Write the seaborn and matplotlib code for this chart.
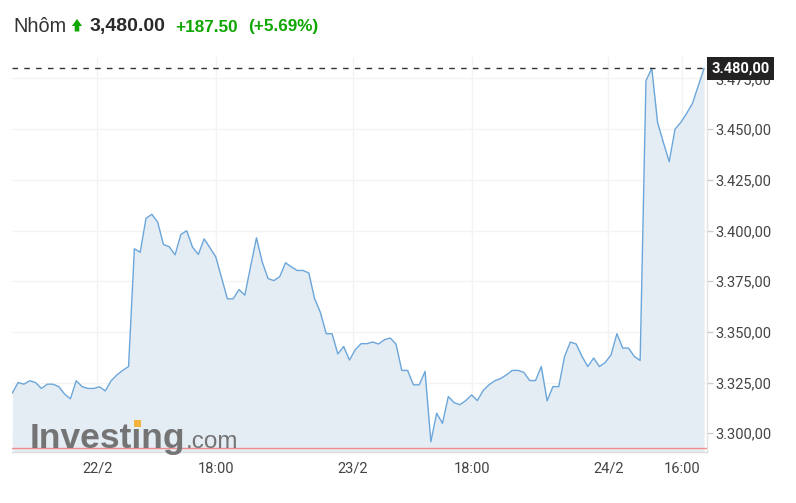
import numpy as np
import pandas as pd
import matplotlib
matplotlib.use("Agg")
import matplotlib.pyplot as plt
import matplotlib.patches as mpatches
import matplotlib.ticker as mticker
import matplotlib.transforms as mtransforms
import seaborn as sns

# ---------------- data ----------------
prices = [
    3319.8, 3325.0, 3324.2, 3325.9, 3325.0, 3322.1, 3324.2, 3324.2, 3323.0, 3319.3,
    3317.0, 3325.9, 3323.0, 3322.1, 3322.1, 3322.9, 3320.9, 3325.9, 3328.8, 3331.0,
    3332.9, 3391.0, 3389.3, 3406.0, 3408.0, 3404.2, 3393.1, 3392.0, 3388.0, 3398.1,
    3399.9, 3391.8, 3388.2, 3395.9, 3391.5, 3387.0, 3376.7, 3366.3, 3366.3, 3370.9,
    3368.1, 3382.4, 3396.4, 3384.4, 3376.3, 3375.3, 3377.2, 3384.1, 3382.1, 3380.3,
    3380.3, 3379.1, 3366.4, 3359.6, 3349.1, 3349.1, 3339.1, 3342.8, 3336.1, 3341.2,
    3344.2, 3344.2, 3345.0, 3344.0, 3346.1, 3347.0, 3344.0, 3331.0, 3331.0, 3323.9,
    3323.9, 3330.5, 3295.8, 3309.9, 3304.9, 3318.1, 3315.1, 3314.1, 3316.1, 3318.9,
    3316.1, 3321.1, 3323.9, 3325.9, 3327.0, 3328.8, 3331.0, 3331.0, 3330.0, 3326.0,
    3326.0, 3332.9, 3316.0, 3323.0, 3323.0, 3337.9, 3345.0, 3344.0, 3337.9, 3332.9,
    3337.1, 3332.9, 3334.9, 3338.7, 3349.1, 3342.0, 3342.0, 3337.9, 3335.9, 3473.9,
    3480.0, 3453.3, 3443.4, 3434.0, 3450.0, 3453.3, 3457.8, 3462.7, 3471.4, 3480.0,
]
x_tick_labels = ["22/2", "18:00", "23/2", "18:00", "24/2", "16:00"]
x_tick_pos = [14.6, 35.1, 58.6, 79.1, 102.5, 115.2]
y_ticks = [3300, 3325, 3350, 3375, 3400, 3425, 3450, 3475]
prev_close = 3292.5
last_price = 3480.0
title_name = "Nhôm"
title_price = "3,480.00"
title_change = "+187.50"
title_pct = "(+5.69%)"

# ---------------- style ----------------
sns.set_theme(style="white")
plt.rcParams["font.family"] = ["Roboto", "DejaVu Sans"]

W, H = 796, 503
fig = plt.figure(figsize=(W / 100, H / 100), dpi=100)
fig.patch.set_facecolor("white")

ax_l, ax_r, ax_t, ax_b = 12.3, 707.0, 57.0, 452.0
ax = fig.add_axes([ax_l / W, (H - ax_b) / H, (ax_r - ax_l) / W, (ax_b - ax_t) / H])

ymin, ymax = 3290.75, 3485.6
df = pd.DataFrame({"idx": np.arange(len(prices)), "price": prices})

ax.fill_between(df["idx"], df["price"], ymin, color="#e4ecf4", lw=0, zorder=1)
sns.lineplot(data=df, x="idx", y="price", ax=ax, color="#6ba6da", lw=1.0, zorder=3)
ax.axhline(prev_close, color="#f08c8c", lw=1.0, zorder=2)
ax.axhline(last_price, color="#333333", lw=1.0, ls=(0, (4, 4.5)), zorder=4)

ax.set_xlim(0, 119.5)
ax.set_ylim(ymin, ymax)
ax.yaxis.tick_right()
ax.set_yticks(y_ticks)


def eu_fmt(v, p):
    s = f"{v:,.2f}"
    return s.replace(",", "X").replace(".", ",").replace("X", ".")


ax.yaxis.set_major_formatter(mticker.FuncFormatter(eu_fmt))
ax.set_xticks(x_tick_pos)
ax.set_xticklabels(x_tick_labels)
ax.grid(True, color="#f3f3f3", lw=1.0, zorder=0)
ax.set_axisbelow(True)
ax.tick_params(axis="y", which="both", right=True, left=False, length=4, width=1,
               color="#cccccc", pad=2, labelsize=10.5, labelcolor="#444444")
ax.tick_params(axis="x", length=0, pad=7, labelsize=10.5, labelcolor="#444444")
for s in ["left", "top"]:
    ax.spines[s].set_visible(False)
ax.spines["bottom"].set_color("#dddddd")
ax.spines["right"].set_color("#e3e3e3")
ax.spines["bottom"].set_linewidth(1.0)
ax.spines["right"].set_linewidth(1.0)
ax.set_xlabel("")
ax.set_ylabel("")

# last price box (covers part of the 3.475,00 label, as in the reference)
trans = mtransforms.blended_transform_factory(ax.transAxes, ax.transData)
ax.text(1.0 + 4.6 / (ax_r - ax_l), last_price, eu_fmt(last_price, None), transform=trans,
        ha="left", va="center", color="white", fontsize=10.5, fontweight="bold",
        bbox=dict(boxstyle="square,pad=0.3", fc="#222222", ec="none"),
        zorder=10, clip_on=False)

# ---------------- title ----------------
base_y = (H - 31.5) / H
tfont = ["Liberation Sans", "DejaVu Sans"]
fig.text(13 / W, base_y, title_name, fontsize=14.3, color="#333333", family=tfont, va="baseline")
arrow_px = [(72.0, 26.0), (77.0, 19.0), (82.0, 26.0), (79.3, 26.0), (79.3, 31.5),
            (74.7, 31.5), (74.7, 26.0)]
arrow_pts = [(x / W, (H - y) / H) for x, y in arrow_px]
fig.patches.append(mpatches.Polygon(arrow_pts, closed=True, fc="#0ea600", ec="none",
                                    transform=fig.transFigure))
fig.text(90 / W, base_y, title_price, fontsize=14, fontweight="bold", color="#2a2a2a",
         family=tfont, va="baseline")
fig.text(175 / W, base_y, title_change, fontsize=12.3, fontweight="bold", color="#0ea600",
         family=tfont, va="baseline")
fig.text(248 / W, base_y, title_pct, fontsize=12.3, fontweight="bold", color="#0ea600",
         family=tfont, va="baseline")

# ---------------- watermark ----------------
renderer = fig.canvas.get_renderer()
wm_base = (H - 448) / H
wm_x = 30 / W
wm_col = "#6e6e6e"
wm_size = 25.5
wm1 = fig.text(wm_x, wm_base, "Investıng", fontsize=wm_size, fontweight="bold", color=wm_col,
               family=tfont, va="baseline", alpha=0.95, zorder=5)
meas = fig.text(wm_x, wm_base, "Invest", fontsize=wm_size, fontweight="bold", family=tfont,
                va="baseline")
bb_inv = meas.get_window_extent(renderer)
meas.remove()
meas2 = fig.text(wm_x, wm_base, "ı", fontsize=wm_size, fontweight="bold", family=tfont,
                 va="baseline")
bb_i = meas2.get_window_extent(renderer)
meas2.remove()
bb_full = wm1.get_window_extent(renderer)
i_center = bb_inv.x1 + bb_i.width / 2
sq = 7.0
fig.patches.append(mpatches.Rectangle(((i_center - sq / 2) / W, (55 + 21) / H), sq / W, sq / H,
                                      transform=fig.transFigure, fc="#f3b33d", ec="none",
                                      zorder=6))
fig.text(bb_full.x1 / W, wm_base, ".com", fontsize=17.5, color=wm_col, family=tfont,
         va="baseline", alpha=0.95, zorder=5)

fig.savefig("out.png", dpi=100, facecolor="white")
